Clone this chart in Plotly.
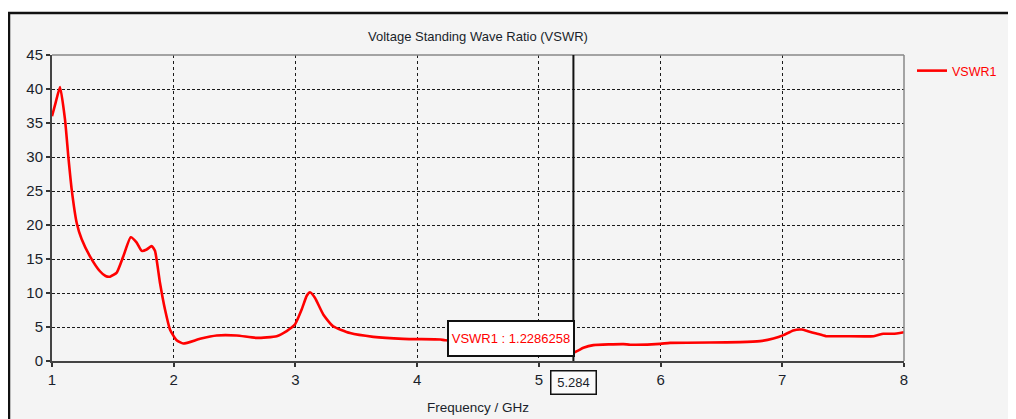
import plotly.graph_objects as go

# ---- data ----
freq = [1.0, 1.03, 1.066, 1.107, 1.134, 1.162, 1.203, 1.244, 1.312, 1.394, 1.44, 1.477,
        1.532, 1.586, 1.647, 1.696, 1.737, 1.778, 1.819, 1.846, 1.887, 1.928, 1.97, 2.024,
        2.079, 2.216, 2.353, 2.517, 2.682, 2.846, 2.928, 2.997, 3.052, 3.093, 3.12, 3.16,
        3.23, 3.31, 3.449, 3.64, 3.886, 4.19, 4.23, 4.5, 4.8, 5.0, 5.15, 5.284, 5.366,
        5.448, 5.694, 5.75, 5.996, 6.078, 6.653, 6.818, 6.927, 7.01, 7.09, 7.16, 7.21,
        7.28, 7.36, 7.5, 7.75, 7.83, 7.91, 8.0]
vswr1 = [36.0, 38.0, 40.3, 35.5, 30.1, 25.2, 20.3, 17.9, 15.4, 13.2, 12.5, 12.4,
         13.0, 15.4, 18.2, 17.4, 16.2, 16.4, 16.9, 16.2, 11.5, 7.6, 4.6, 3.06,
         2.57, 3.26, 3.75, 3.75, 3.4, 3.65, 4.4, 5.4, 7.6, 9.6, 10.1, 9.3,
         6.8, 5.1, 4.1, 3.55, 3.26, 3.16, 3.06, 3.0, 2.8, 2.3, 1.6, 1.2286258, 1.94,
         2.33, 2.48, 2.4, 2.52, 2.67, 2.77, 2.92, 3.3, 3.8, 4.5, 4.63, 4.38,
         4.04, 3.65, 3.65, 3.65, 4.0, 4.0, 4.24]
x_ticks = [1, 2, 3, 4, 5, 6, 7, 8]
y_ticks = [0, 5, 10, 15, 20, 25, 30, 35, 40, 45]
marker_freq = 5.284
marker_value = 1.2286258
series_name = "VSWR1"
title_text = "Voltage Standing Wave Ratio (VSWR)"
x_title = "Frequency / GHz"

FONT = "Liberation Sans, Arial, sans-serif"
BG = "#f4f4f4"
INK = "#1a1f2b"

# the page body has an 8px margin: the figure starts at screen (8, 8)
OFF = 8
W, H = 1016 - OFF, 419 - OFF
# screen-pixel positions of plot area edges in the reference
SX0, SX1, SY0, SY1 = 52, 904, 55, 361
L, T = SX0 - OFF, SY0 - OFF
R, B = W - (SX1 - OFF), H - (SY1 - OFF)
pw, ph = SX1 - SX0, SY1 - SY0

def px_x(p):
    return (p - SX0) / pw

def px_y(p):
    return 1 - (p - SY0) / ph

fig = go.Figure()
fig.add_trace(go.Scatter(x=freq, y=vswr1, mode="lines", name=series_name,
                         line=dict(color="#ff0000", width=2.6, shape="spline", smoothing=0.5)))

axis_common = dict(showgrid=True, gridcolor="#1a1a1a", gridwidth=1,
                   showline=True, linecolor="#444", linewidth=2,
                   ticks="outside", ticklen=4, tickcolor="#333", tickwidth=2,
                   zeroline=False, fixedrange=True)

fig.update_layout(
    width=W, height=H,
    margin=dict(l=L, r=R, t=T, b=B),
    paper_bgcolor="white",
    plot_bgcolor="rgba(0,0,0,0)",
    font=dict(family=FONT, size=13, color=INK),
    showlegend=True,
    legend=dict(x=px_x(912), y=px_y(56), xanchor="left", yanchor="top",
                bgcolor="rgba(0,0,0,0)", borderwidth=0,
                font=dict(family=FONT, size=12.5, color="#ff0000")),
    xaxis=dict(range=[1, 8], tickvals=x_ticks, ticktext=[str(v) for v in x_ticks],
               griddash="dot", tickfont=dict(family=FONT, size=15, color=INK),
               **axis_common),
    yaxis=dict(range=[0, 45], tickvals=y_ticks, ticktext=[str(v) for v in y_ticks],
               griddash="3px,2px", tickfont=dict(family=FONT, size=15, color=INK),
               **axis_common),
    shapes=[
        # outer frame
        dict(type="rect", xref="paper", yref="paper",
             x0=px_x(9), x1=px_x(1030), y0=px_y(430), y1=px_y(13),
             line=dict(color="#111", width=2.5), fillcolor=BG, layer="below"),
        # top / right plot border
        dict(type="line", xref="paper", yref="paper", x0=0, x1=1, y0=1, y1=1,
             line=dict(color="#888", width=1.5)),
        dict(type="line", xref="paper", yref="paper", x0=1, x1=1, y0=0, y1=1,
             line=dict(color="#888", width=1.5)),
        # marker line
        dict(type="line", xref="x", yref="paper", x0=marker_freq, x1=marker_freq,
             y0=0, y1=1, line=dict(color="#111", width=2)),
    ],
    annotations=[
        dict(text=title_text, xref="paper", yref="paper", x=px_x(478), y=px_y(37),
             xanchor="center", yanchor="middle", showarrow=False,
             font=dict(family=FONT, size=13, color=INK)),
        dict(text=x_title, xref="paper", yref="paper", x=px_x(478), y=px_y(408),
             xanchor="center", yanchor="middle", showarrow=False,
             font=dict(family=FONT, size=13.5, color=INK)),
        dict(text=f"{series_name} : {marker_value}", xref="paper", yref="paper",
             x=px_x(511), y=px_y(338.5), xanchor="center", yanchor="middle",
             showarrow=False, bgcolor="white", bordercolor="#111", borderwidth=2,
             borderpad=0, width=124, height=33,
             font=dict(family=FONT, size=13, color="#ff0000")),
        dict(text=f"{marker_freq}", xref="x", yref="paper",
             x=marker_freq, y=px_y(382.5), xanchor="center", yanchor="middle",
             showarrow=False, bgcolor="#fafafa", bordercolor="#111", borderwidth=1.5,
             borderpad=0, width=44, height=22,
             font=dict(family=FONT, size=13, color=INK)),
    ],
)

fig.write_html("out.html")
